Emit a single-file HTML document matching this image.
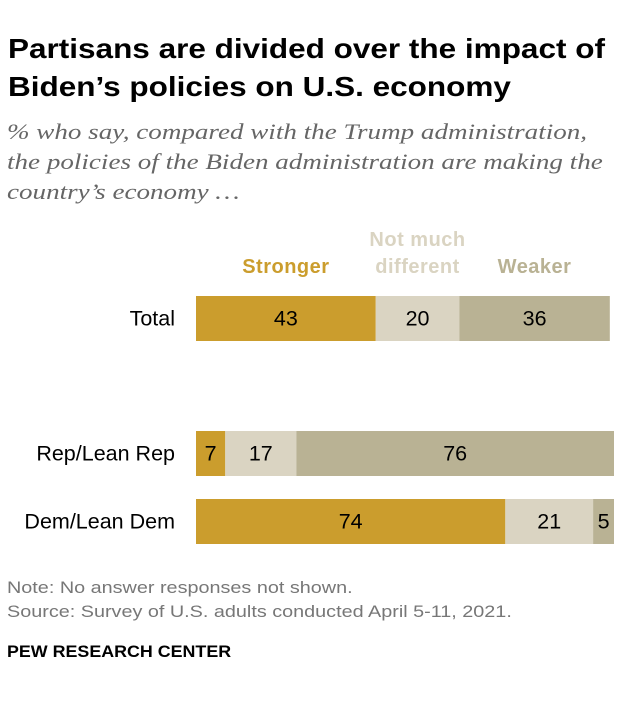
<!DOCTYPE html>
<html><head><meta charset="utf-8">
<style>
body{margin:0;background:#fff;width:620px;height:702px;overflow:hidden;font-family:"Liberation Sans",sans-serif;position:relative}
.t{position:absolute;transform-origin:0 0;white-space:nowrap}
</style></head><body>
<div class="t" style="left:8px;top:30px;font-size:28px;font-weight:bold;line-height:38px;color:#000;transform:scaleX(1.125)">Partisans are divided over the impact of<br>Biden’s policies on U.S. economy</div>
<div class="t" style="left:7px;top:117px;font-family:'Liberation Serif',serif;font-style:italic;font-size:22px;line-height:30px;color:#666;transform:scaleX(1.23)">% who say, compared with the Trump administration,<br>the policies of the Biden administration are making the<br>country’s economy …</div>
<svg class="t" style="left:0;top:0" width="620" height="702" id="chart"></svg>
<div class="t" style="left:7px;top:576px;font-size:16.5px;line-height:24px;color:#777;transform:scaleX(1.2)">Note: No answer responses not shown.<br>Source: Survey of U.S. adults conducted April 5-11, 2021.</div>
<div class="t" style="left:7px;top:642px;font-size:17px;font-weight:bold;color:#000;transform:scaleX(1.05)">PEW RESEARCH CENTER</div>
<script>
const categories=["Total","Rep/Lean Rep","Dem/Lean Dem"];
const stronger=[43,7,74];
const notMuch=[20,17,21];
const weaker=[36,76,5];
const seriesNames=["Stronger","Not much different","Weaker"];
const colors=["#CB9D2D","#DAD4C2","#B9B294"];
const NS="http://www.w3.org/2000/svg";
const svg=document.getElementById('chart');
const x0=196, scale=4.18;
const rowY=[296,431,499], barH=45;
const x=v=>v*scale;
function mk(tag,attrs){const e=document.createElementNS(NS,tag);for(const k in attrs)e.setAttribute(k,attrs[k]);svg.appendChild(e);return e;}
const series=[stronger,notMuch,weaker];
categories.forEach((c,i)=>{
  const lab=mk('text',{x:175,y:rowY[i]+barH/2+7,'text-anchor':'end','font-size':21.5,fill:'#000'});
  lab.textContent=c;
  
  
  let cx=x0;
  series.forEach((s,j)=>{
    const w=x(s[i]);
    const r=mk('rect',{x:cx,y:rowY[i],width:w,height:barH,fill:colors[j]});
    
    
    const t=mk('text',{x:cx+w/2,y:rowY[i]+barH/2+7,'text-anchor':'middle','font-size':21.5,fill:'#000'});
    t.textContent=s[i];
    
    
    cx+=w;
  });
});
let lx=x0;
const legLines=[["Stronger"],["Not much","different"],["Weaker"]];
series.forEach((s,j)=>{
  const w=x(s[0]);
  const lines=legLines[j];
  lines.forEach((ln,k)=>{
    const t=mk('text',{x:lx+w/2,y:273-(lines.length-1-k)*27,'text-anchor':'middle','font-size':20,'font-weight':'bold',fill:colors[j],'letter-spacing':'0.5'});
    t.textContent=ln;
    
    
  });
  lx+=w;
});
</script>
</body></html>
